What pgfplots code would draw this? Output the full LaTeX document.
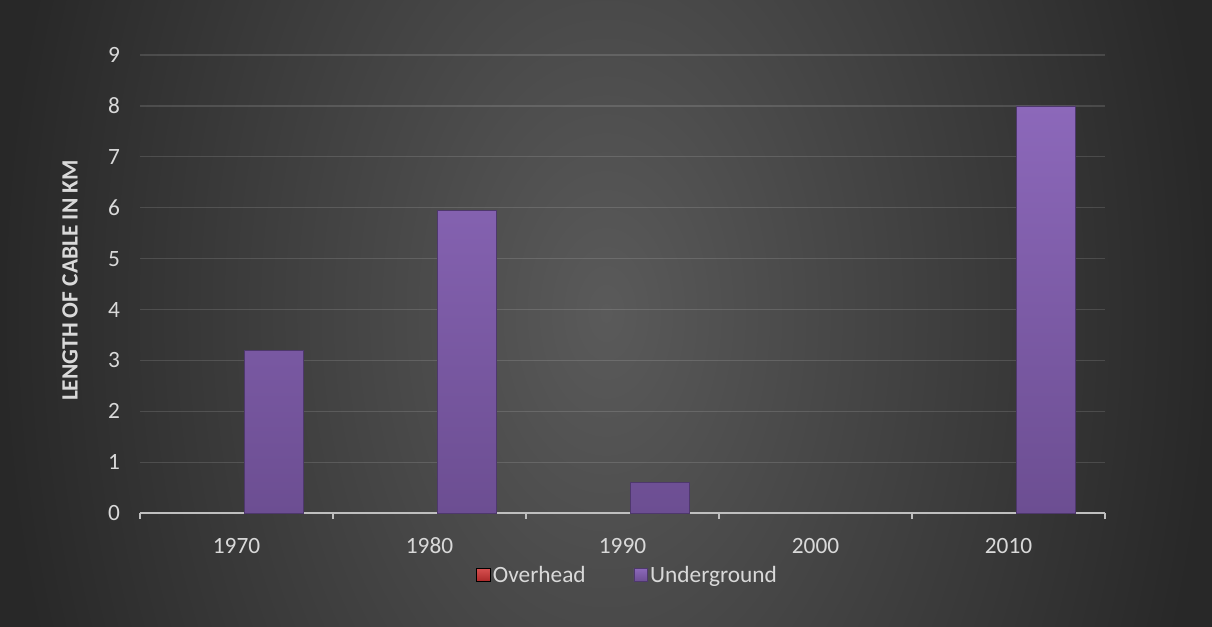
\documentclass[border=0pt]{standalone}
\usepackage{fontspec}
\setmainfont{Carlito}
\usepackage{pgfplots}
\pgfplotsset{compat=1.18}
\definecolor{bgin}{RGB}{90,90,90}
\definecolor{bgout}{RGB}{40,40,40}
\definecolor{txt}{RGB}{217,217,217}
\definecolor{axisgray}{RGB}{191,191,191}
\definecolor{purpletop}{RGB}{140,104,186}
\definecolor{purplebot}{RGB}{108,78,146}
\definecolor{purpleedge}{RGB}{78,56,108}
\definecolor{redtop}{RGB}{215,80,80}
\definecolor{redbot}{RGB}{170,40,40}
\begin{document}
\begin{tikzpicture}
\path (0,0) rectangle (909pt,469.5pt);
\begin{scope}
\clip (0,0) rectangle (909pt,469.5pt);
\shade[overlay, inner color=bgin, outer color=bgout] (0,-476.25pt) rectangle (909pt,945.75pt);
\end{scope}
\begin{axis}[
  at={(105pt,84.75pt)}, anchor=south west,
  scale only axis, width=723.75pt, height=343.5pt,
  xmin=-0.5, xmax=4.5, ymin=0, ymax=9,
  ytick={0,1,...,9},
  xtick={-0.5,0.5,1.5,2.5,3.5,4.5},
  x tick label as interval,
  xticklabels={1970,1980,1990,2000,2010},
  axis lines*=left,
  x axis line style={draw=axisgray, line width=0.9pt},
  y axis line style={draw=none},
  tick align=outside,
  major tick length=4.5pt,
  xtick style={draw=axisgray, line width=0.9pt},
  ytick style={draw=none},
  ymajorgrids,
  grid style={draw=white, draw opacity=0.13, line width=0.9pt},
  tick label style={font=\fontsize{17.5}{21}\selectfont, text=txt},
  typeset ticklabels with strut,
  /pgf/number format/assume math mode=true,
  xticklabel style={yshift=-8pt},
  yticklabel style={xshift=-7pt, yshift=-1.5pt},
  legend style={at={(0.5057,-0.1354)}, anchor=center, draw=none, fill=none,
    font=\fontsize{17.5}{21}\selectfont, text=txt, legend columns=2,
    /tikz/every even column/.append style={column sep=34pt}},
  legend image code/.code={\draw[#1] (0pt,-5pt) rectangle (10pt,5pt);},
]
\addplot[ybar, bar width=44.25pt, bar shift=-27.75pt, top color=redtop, bottom color=redbot, draw=none] coordinates {(0,0) (1,0) (2,0) (3,0) (4,0)};
\addplot[ybar, bar width=44.25pt, bar shift=27.75pt, top color=purpletop, bottom color=purplebot, draw=purpleedge] coordinates {(0,3.2) (1,5.95) (2,0.6) (4,8)};
\legend{Overhead, Underground}
\end{axis}
\node[rotate=90, font=\fontsize{17.5}{21}\selectfont\bfseries, text=txt] at (52.5pt,259.1pt) {LENGTH OF CABLE IN KM};
\end{tikzpicture}
\end{document}
